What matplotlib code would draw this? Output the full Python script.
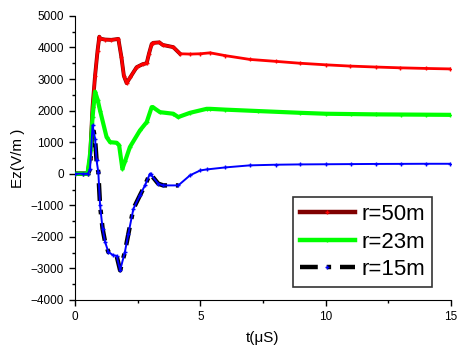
import matplotlib
matplotlib.use("Agg")
import matplotlib.pyplot as plt
from matplotlib.lines import Line2D

plt.rcParams['font.family'] = ['Liberation Sans', 'DejaVu Sans']

# r = 50 m
t_50 = [0, 0.3, 0.5, 0.6, 0.7, 0.8, 0.9, 0.97, 1.0, 1.2, 1.45, 1.73, 1.85, 1.95,
        2.06, 2.2, 2.46, 2.7, 2.86, 2.95, 3.06, 3.12, 3.36, 3.5, 3.92, 4.19,
        4.6, 5.0, 5.39, 6.0, 6.98, 8.0, 8.97, 10.0, 10.97, 12.0, 12.96, 14.0, 14.96]
e_50 = [0, 0, 0, 500, 2110, 3100, 3900, 4340, 4280, 4250, 4240, 4270, 3700, 3100,
        2870, 3050, 3375, 3470, 3500, 3800, 4110, 4145, 4160, 4080, 4010, 3800,
        3790, 3800, 3830, 3740, 3620, 3560, 3500, 3450, 3410, 3380, 3355, 3335, 3320]

# r = 23 m
t_23 = [0, 0.3, 0.5, 0.62, 0.7, 0.8, 0.9, 1.0, 1.26, 1.4, 1.66, 1.76, 1.89, 2.0,
        2.19, 2.59, 2.86, 3.06, 3.1, 3.39, 3.92, 4.12, 4.59, 5.25, 5.39, 6.0,
        7.31, 8.97, 10.0, 11.0, 12.0, 13.0, 14.0, 14.96]
e_23 = [0, 0, 0, 740, 1800, 2600, 2350, 2000, 1160, 1000, 980, 900, 160, 400,
        845, 1370, 1635, 2110, 2110, 1950, 1900, 1795, 1930, 2055, 2055, 2030,
        1985, 1930, 1900, 1890, 1880, 1875, 1870, 1865]

# r = 15 m
t_15 = [0, 0.3, 0.52, 0.6, 0.7, 0.8, 0.86, 0.93, 1.0, 1.1, 1.2, 1.33, 1.53, 1.66,
        1.8, 1.99, 2.13, 2.33, 2.59, 2.79, 2.99, 3.02, 3.32, 3.52, 4.12, 4.59,
        5.0, 5.25, 6.0, 6.98, 8.0, 8.97, 10.0, 11.0, 12.0, 13.0, 14.0, 14.96]
e_15 = [0, 0, 0, 160, 1530, 1110, 420, 50, -1000, -1740, -2160, -2480, -2585, -2600,
        -3060, -2480, -1900, -1110, -685, -370, 0, -20, -315, -370, -370, -50,
        105, 135, 200, 265, 285, 295, 300, 305, 310, 312, 315, 315]

labels = ['r=50m', 'r=23m', 'r=15m']
t_thick = 4.3  # thick overlay only drawn over the early part

fig = plt.figure(figsize=(4.63, 3.61), dpi=100)
ax = fig.add_axes([0.162, 0.169, 0.812, 0.787])


def early(t, e):
    pts = [(a, b) for a, b in zip(t, e) if a <= t_thick]
    return [p[0] for p in pts], [p[1] for p in pts]


# thick lines underneath
x, y = early(t_50, e_50)
ax.plot(x, y, color='#800000', lw=2.8, zorder=2)
x, y = early(t_15, e_15)
ax.plot(x, y, color='black', lw=3.2, ls=(0, (4, 2, 1, 2)), zorder=2)

# thin lines with markers
ax.plot(t_50, e_50, color='#ff0000', lw=2.0, marker='+', ms=3.5, mew=1, zorder=3)
ax.plot(t_23, e_23, color='#00ff00', lw=3.0, marker='+', ms=3, mew=1, zorder=3)
ax.plot(t_15, e_15, color='#0000ff', lw=1.4, marker='+', ms=3, mew=1, zorder=3)

ax.set_xlim(0, 15)
ax.set_ylim(-4000, 5000)
ax.set_xticks([0, 5, 10, 15])
ax.set_xticks([2.5, 7.5, 12.5], minor=True)
ax.set_yticks(range(-4000, 5001, 1000))
ax.set_yticks(range(-3500, 5000, 1000), minor=True)
ax.spines['top'].set_visible(False)
ax.spines['right'].set_visible(False)
ax.tick_params(axis='both', which='major', direction='out', length=4, width=1,
               labelsize=8.5, pad=4)
ax.tick_params(axis='both', which='minor', direction='out', length=2.5, width=1)
ax.set_xlabel('t(\u03bcS)', fontsize=11, labelpad=6)
ax.set_ylabel('Ez(V/m )', fontsize=11, labelpad=4)

handles = [
    Line2D([], [], color='#800000', lw=3.2, marker='+', ms=3, mec='#ff0000'),
    Line2D([], [], color='#00ff00', lw=3.2, marker='+', ms=3, mec='#00ff00'),
    Line2D([], [], color='black', lw=3.2, ls=(0, (4, 2, 1, 2)), marker='+', ms=3,
           mec='#0000ff'),
]
leg = ax.legend(handles, labels, loc='lower right', bbox_to_anchor=(0.95, 0.046),
                fontsize=16, frameon=True, fancybox=False, numpoints=1,
                handlelength=2.5, handletextpad=0.3, labelspacing=0.3,
                borderpad=0.3, borderaxespad=0)
leg.get_frame().set_edgecolor('black')
leg.get_frame().set_linewidth(1.2)

fig.savefig('out.png', dpi=100)
